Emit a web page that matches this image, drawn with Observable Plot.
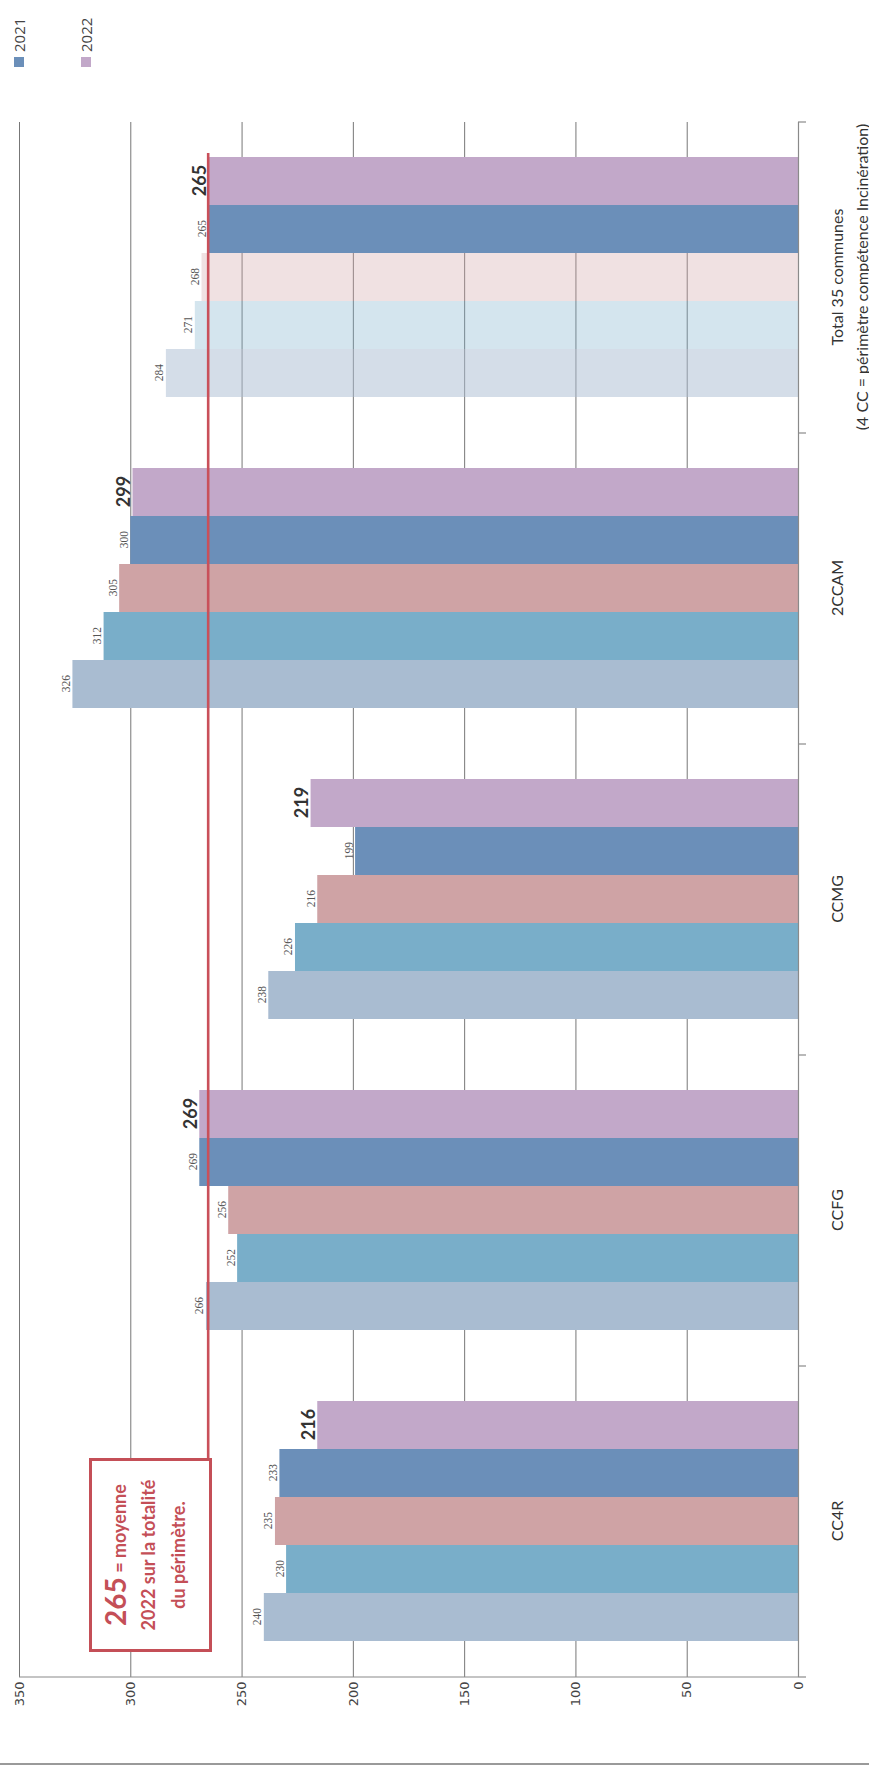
<!DOCTYPE html>
<html>
<head>
<meta charset="utf-8">
<script src="https://cdn.jsdelivr.net/npm/d3@7"></script>
<script src="https://cdn.jsdelivr.net/npm/@observablehq/plot@0.6"></script>
<style>
  html, body { margin: 0; padding: 0; background: #fff; width: 869px; height: 1765px; overflow: hidden; }
  #rot {
    position: absolute; left: 0; top: 0; width: 1765px; height: 869px;
    transform-origin: 0 0; transform: translateY(1765px) rotate(-90deg);
    background: #fff; font-family: Lato, "Open Sans", sans-serif;
    border-left: 2px solid #9a9a9a; box-sizing: border-box;
  }
  #chart { position: absolute; left: -2px; top: 0; }
  #note {
    position: absolute; left: 111px; top: 89px; width: 194px; height: 123px;
    box-sizing: border-box; border: 3px solid #c44f57; background: #fff;
    color: #c44f57; font-weight: bold; text-align: center; font-size: 18px;
    font-family: Lato, sans-serif;
  }
  #note div { position: absolute; left: 0; right: 0; white-space: nowrap; }
  #legend { position: absolute; left: 1696px; top: 9px; font-family: "Open Sans", sans-serif; font-size: 15px; color: #444; }
  #legend .item { position: absolute; left: 0; display: flex; align-items: center; white-space: nowrap; }
  #legend .sw { width: 10px; height: 10px; margin-right: 5px; }
</style>
</head>
<body>
<div id="rot"><div id="chart"></div></div>
<script>
// ---- data ----
const categories = ["CC4R", "CCFG", "CCMG", "2CCAM", "Total 35 communes\n(4 CC = périmètre compétence Incinération)"];
const years = ["2018", "2019", "2020", "2021", "2022"];
const values2018 = [240, 266, 238, 326, 284];
const values2019 = [230, 252, 226, 312, 271];
const values2020 = [235, 256, 216, 305, 268];
const values2021 = [233, 269, 199, 300, 265];
const values2022 = [216, 269, 219, 299, 265];
const yTicks = [0, 50, 100, 150, 200, 250, 300, 350];
const legendYears = ["2021", "2022"];
const average2022 = 265;
const noteLines = ["= moyenne", "2022 sur la totalité", "du périmètre."];
const seriesColors = ["#a9bcd1", "#79aec9", "#cfa3a5", "#6b8fb9", "#c2a8c9"];

const series = [values2018, values2019, values2020, values2021, values2022];
const rows = [];
categories.forEach((cat, i) => years.forEach((year, j) => rows.push({cat, year, value: series[j][i]})));
const totalCat = categories[categories.length - 1];
const faded = {"2018": 0.5, "2019": 0.32, "2020": 0.32};

const chart = Plot.plot({
  width: 1765, height: 869,
  marginLeft: 86, marginRight: 120, marginTop: 19, marginBottom: 71,
  style: {fontFamily: "Lato, sans-serif", background: "transparent", color: "#333", overflow: "visible"},
  fx: {domain: categories, padding: 0, axis: null},
  x: {domain: years, paddingInner: 0, paddingOuter: 0.72, axis: null},
  y: {domain: [0, 350], axis: null},
  color: {domain: years, range: seriesColors},
  marks: [
    Plot.gridY(yTicks.filter(t => t > 0), {stroke: "#777", strokeOpacity: 1, strokeWidth: 1}),
    Plot.barY(rows, {
      fx: "cat", x: "year", y: "value", fill: "year",
      fillOpacity: d => (d.cat === totalCat && faded[d.year]) ? faded[d.year] : 1
    }),
    Plot.ruleY([0], {stroke: "#8a8a8a", strokeWidth: 1.2}),
    Plot.axisY(yTicks, {tickSize: 0, tickPadding: 5, fontSize: 13, fill: "#444", fontFamily: "DejaVu Sans", label: null}),
    Plot.text(rows.filter(d => d.year !== "2022"), {
      fx: "cat", x: "year", y: "value", text: d => String(d.value),
      lineAnchor: "bottom", dy: -3, fontSize: 11.5, fontFamily: "Liberation Serif", fill: "#555"
    }),
    Plot.text(rows.filter(d => d.year === "2022"), {
      fx: "cat", x: "year", y: "value", text: d => String(d.value),
      lineAnchor: "bottom", dy: -3, fontSize: 18, fontWeight: "bold", fill: "#333"
    }),
    Plot.text(categories, {
      fx: d => d, text: d => d, frameAnchor: "bottom", lineAnchor: "top",
      dy: 26, fontSize: 16, lineHeight: 1.6, fill: "#333"
    })
  ]
});
document.getElementById("chart").appendChild(chart);

// ---- axis lines, category ticks and the 2022 average line, from the plot's scales ----
const fxS = chart.scale("fx"), xS = chart.scale("x"), yS = chart.scale("y");
const svg = d3.select(chart);
const left = fxS.apply(categories[0]);
const right = fxS.apply(totalCat) + fxS.bandwidth;
const y0 = yS.apply(0), yTop = yS.apply(350);
svg.append("line").attr("x1", left).attr("x2", left).attr("y1", yTop).attr("y2", y0)
  .attr("stroke", "#8a8a8a").attr("stroke-width", 1.2);
[...categories.map(c => fxS.apply(c)), right].forEach(x => {
  svg.append("line").attr("x1", x).attr("x2", x).attr("y1", y0).attr("y2", y0 + 8)
    .attr("stroke", "#8a8a8a").attr("stroke-width", 1.2);
});
const xEnd = fxS.apply(totalCat) + (xS.apply("2022") - xS.range[0]) + xS.bandwidth + 4;
const yAvg = yS.apply(average2022);
const note = document.createElement("div");
note.id = "note";
note.innerHTML =
  `<div style="top:6px"><span style="font-size:28px">${average2022}</span> ${noteLines[0]}</div>` +
  `<div style="top:45px">${noteLines[1]}</div>` +
  `<div style="top:75px">${noteLines[2]}</div>`;
document.getElementById("rot").appendChild(note);
const noteRight = 111 + 194 - 2;
svg.append("line").attr("x1", noteRight).attr("x2", xEnd).attr("y1", yAvg).attr("y2", yAvg)
  .attr("stroke", "#c9505a").attr("stroke-width", 2.6);

// ---- legend ----
const colorS = chart.scale("color");
const legend = document.createElement("div");
legend.id = "legend";
legendYears.forEach((yr, i) => {
  const it = document.createElement("div");
  it.className = "item";
  it.style.top = (i * 67) + "px";
  it.innerHTML = `<span class="sw" style="background:${colorS.apply(yr)}"></span><span>${yr}</span>`;
  legend.appendChild(it);
});
document.getElementById("rot").appendChild(legend);
</script>
</body>
</html>
